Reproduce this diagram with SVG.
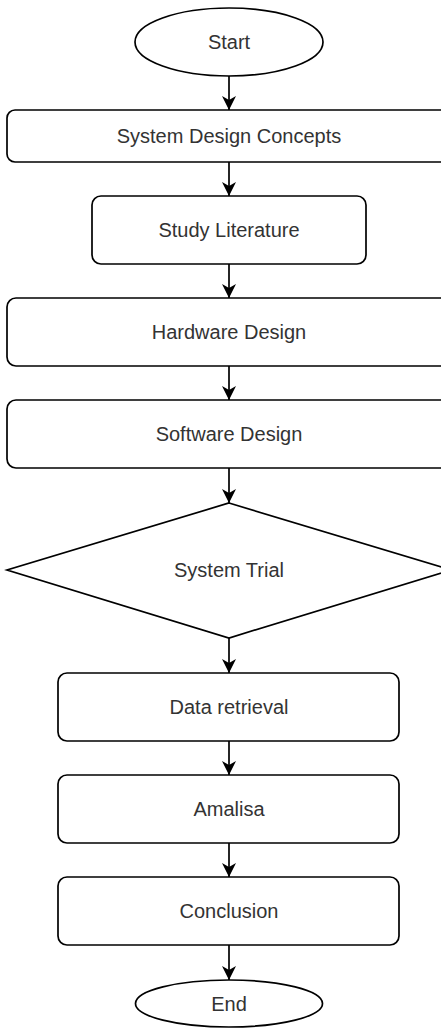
<svg xmlns="http://www.w3.org/2000/svg" width="441" height="1028" viewBox="0 0 441 1028">
<style>
.s{fill:#fff;stroke:#000;stroke-width:1.7}
.t{font-family:"Liberation Sans",Arial,sans-serif;font-size:20px;fill:#333;text-anchor:middle;dominant-baseline:central}
.c{fill:none;stroke:#000;stroke-width:1.7}
</style>
<defs>
<marker id="a" markerUnits="userSpaceOnUse" markerWidth="16" markerHeight="16" refX="14" refY="7" orient="auto" viewBox="0 0 16 14">
<path d="M14,7 L0,0 L4,7 L0,14 Z" fill="#000"/>
</marker>
</defs>
<rect width="441" height="1028" fill="#fff"/>
<g id="connectors">
<path class="c" d="M229,76 V110" marker-end="url(#a)"/>
<path class="c" d="M229,162 V196" marker-end="url(#a)"/>
<path class="c" d="M229,264 V298" marker-end="url(#a)"/>
<path class="c" d="M229,366 V400" marker-end="url(#a)"/>
<path class="c" d="M229,468 V503" marker-end="url(#a)"/>
<path class="c" d="M229,638 V673" marker-end="url(#a)"/>
<path class="c" d="M229,741 V775" marker-end="url(#a)"/>
<path class="c" d="M229,843 V877" marker-end="url(#a)"/>
<path class="c" d="M229,945 V980" marker-end="url(#a)"/>
</g>
<g id="start"><ellipse class="s" cx="229" cy="42" rx="94" ry="34"/><text class="t" x="229" y="42">Start</text></g>
<g id="sdc"><rect class="s" x="7" y="110" width="444" height="52" rx="8"/><text class="t" x="229" y="136">System Design Concepts</text></g>
<g id="sl"><rect class="s" x="92" y="196" width="274" height="68" rx="9"/><text class="t" x="229" y="230">Study Literature</text></g>
<g id="hd"><rect class="s" x="7" y="298" width="444" height="68" rx="9"/><text class="t" x="229" y="332">Hardware Design</text></g>
<g id="sd"><rect class="s" x="7" y="400" width="444" height="68" rx="9"/><text class="t" x="229" y="434">Software Design</text></g>
<g id="st"><polygon class="s" points="229,503 451,570 229,638 7,570"/><text class="t" x="229" y="570">System Trial</text></g>
<g id="dr"><rect class="s" x="58" y="673" width="341" height="68" rx="9"/><text class="t" x="229" y="707">Data retrieval</text></g>
<g id="am"><rect class="s" x="58" y="775" width="341" height="68" rx="9"/><text class="t" x="229" y="809">Amalisa</text></g>
<g id="co"><rect class="s" x="58" y="877" width="341" height="68" rx="9"/><text class="t" x="229" y="911">Conclusion</text></g>
<g id="end"><ellipse class="s" cx="229" cy="1003.5" rx="93.5" ry="23.5"/><text class="t" x="229" y="1003.5">End</text></g>
</svg>
